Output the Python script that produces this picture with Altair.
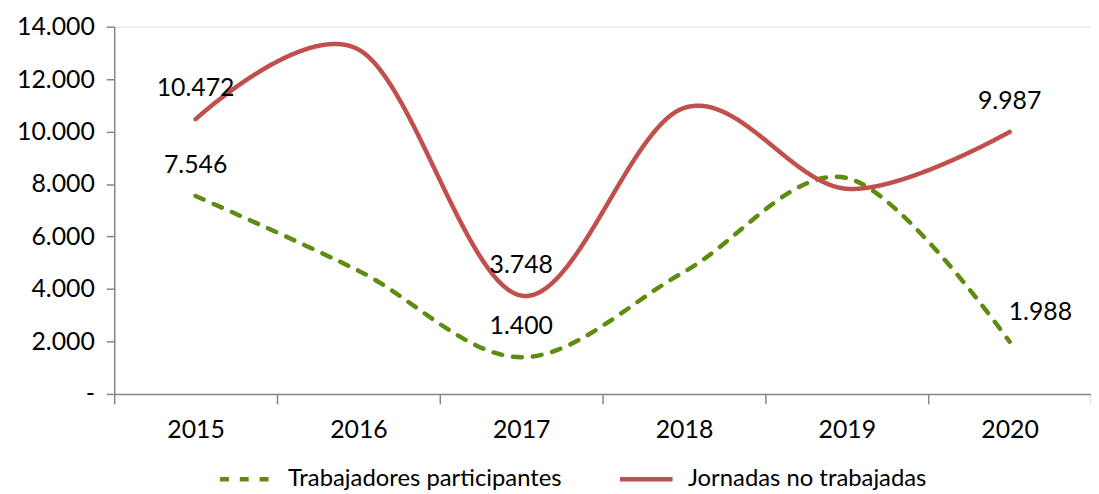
import altair as alt
import pandas as pd

years = ["2015", "2016", "2017", "2018", "2019", "2020"]
trabajadores = [7546, 4700, 1400, 4650, 8230, 1988]
jornadas = [10472, 13130, 3748, 10900, 7820, 9987]
series_names = ["Trabajadores participantes", "Jornadas no trabajadas"]
show_label = [True, False, True, False, False, True]
y_ticks = [0, 2000, 4000, 6000, 8000, 10000, 12000, 14000]
colors = ["#5E8C11", "#C0504D"]

rows = []
for name, vals in zip(series_names, [trabajadores, jornadas]):
    for yr, v, s in zip(years, vals, show_label):
        rows.append({"year": yr, "value": v, "series": name, "show": s})
df = pd.DataFrame(rows)

FONT = "Lato"
FS = 25
GRAY = "#868686"

x_enc = alt.X(
    "year:N",
    sort=years,
    bandPosition=0.5,
    scale=alt.Scale(type="band", paddingInner=0, paddingOuter=0),
    axis=alt.Axis(
        title=None, tickBand="extent", labelAngle=0, tickSize=10, labelPadding=14,
        domainColor=GRAY, tickColor=GRAY, labelFontSize=FS, labelFont=FONT,
        labelColor="black", grid=False, domainWidth=1.5, tickWidth=1.5,
    ),
)
y_enc = alt.Y(
    "value:Q",
    scale=alt.Scale(domain=[0, 14000], nice=False),
    axis=alt.Axis(
        title=None, values=y_ticks, grid=False, tickSize=8, labelPadding=12,
        labelExpr="datum.value == 0 ? '-' : format(datum.value/1000, '.3f')",
        domainColor=GRAY, tickColor=GRAY, labelFontSize=FS, labelFont=FONT,
        labelColor="black", domainWidth=1.5, tickWidth=1.5,
    ),
)

legend_cfg = dict(
    title=None, orient="none", legendX=104, legendY=427, direction="horizontal",
    labelFontSize=24, labelFont=FONT, labelColor="black", columnPadding=49,
    labelOffset=13, labelLimit=500, symbolSize=2809, symbolStrokeWidth=4.5,
    symbolType="stroke",
)

base = alt.Chart(df)

lines = base.mark_line(interpolate="cardinal", tension=0, strokeWidth=4.5, strokeCap="round").encode(
    x=x_enc,
    y=y_enc,
    color=alt.Color(
        "series:N",
        sort=series_names,
        scale=alt.Scale(domain=series_names, range=colors),
        legend=alt.Legend(**legend_cfg),
    ),
    strokeDash=alt.StrokeDash(
        "series:N",
        sort=series_names,
        scale=alt.Scale(domain=series_names, range=[[9, 11], [1, 0]]),
        legend=alt.Legend(**legend_cfg),
    ),
    detail="series:N",
)

label_expr = "format(datum.value/1000, '.3f')"
special = "datum.series == 'Trabajadores participantes' && datum.year == '2020'"

labels = base.transform_filter("datum.show").transform_filter("!(" + special + ")").transform_calculate(
    label=label_expr
).mark_text(fontSize=FS, font=FONT, color="black", dy=-31, baseline="middle", align="center").encode(
    x=alt.X("year:N", sort=years, bandPosition=0.5), y=alt.Y("value:Q"), text="label:N"
)

labels2 = base.transform_filter(special).transform_calculate(
    label=label_expr
).mark_text(fontSize=FS, font=FONT, color="black", dx=31, dy=-30, baseline="middle", align="center").encode(
    x=alt.X("year:N", sort=years, bandPosition=0.5), y=alt.Y("value:Q"), text="label:N"
)

chart = (
    alt.layer(lines, labels, labels2)
    .properties(
        width=984, height=370,
        autosize=alt.AutoSizeParams(type="none"),
        padding={"left": 107, "top": 17, "right": 0, "bottom": 97},
    )
    .configure_view(stroke=None)
    .configure(background="white")
)

chart.save("out.html", embed_options={"renderer": "svg", "actions": False})
